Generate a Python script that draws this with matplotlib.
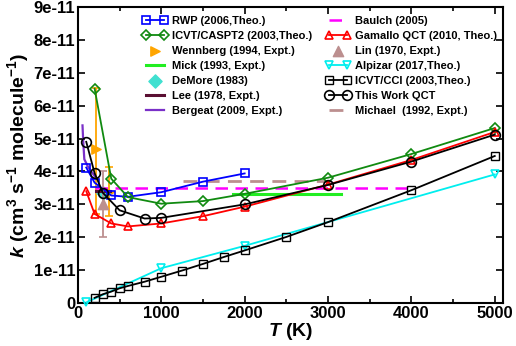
import matplotlib
matplotlib.use("Agg")
import matplotlib.pyplot as plt
import numpy as np
from matplotlib.ticker import MultipleLocator, FixedLocator, FixedFormatter

plt.rcParams['font.family'] = ['Liberation Sans', 'DejaVu Sans']
plt.rcParams['font.weight'] = 'bold'
plt.rcParams['mathtext.fontset'] = 'custom'
plt.rcParams['mathtext.rm'] = 'Liberation Sans:bold'
plt.rcParams['mathtext.it'] = 'Liberation Sans:bold:italic'
plt.rcParams['mathtext.bf'] = 'Liberation Sans:bold'

UNIT = 1e-11

# ---- data (k in units of 1e-11 cm^3 s^-1 molecule^-1) ----
rwp_T = [100, 200, 400, 600, 1000, 1500, 2000]
rwp_k = [4.12, 3.66, 3.27, 3.23, 3.37, 3.69, 3.94]

casp_T = [200, 400, 600, 1000, 1500, 2000, 3000, 4000, 5000]
casp_k = [6.52, 3.78, 3.22, 3.02, 3.10, 3.32, 3.81, 4.53, 5.32]

wenn_T = [215, 375]
wenn_k = [4.68, 3.39]
wenn_lo = [1.98, 0.75]
wenn_hi = [1.87, 0.75]

mick_T = [1860, 3160]
mick_k = [3.32, 3.32]

demore_T = [298]
demore_k = [3.35]

lee_T = [220, 380]
lee_k = [3.40, 3.40]

berg_T = [55, 65, 77, 120, 160, 200]
berg_k = [5.40, 4.85, 4.37, 4.15, 4.00, 3.86]

baulch_T = [200, 4000]
baulch_k = [3.51, 3.51]

gam_T = [100, 200, 400, 600, 1000, 1500, 2000, 3000, 4000, 5000]
gam_k = [3.40, 2.71, 2.42, 2.33, 2.42, 2.64, 2.93, 3.60, 4.35, 5.20]

lin_T = [300]
lin_k = [3.00]
lin_err = [1.00]

alp_T = [100, 1000, 2000, 5000]
alp_k = [0.02, 1.06, 1.74, 3.91]

cci_T = [200, 300, 400, 500, 600, 800, 1000, 1250, 1500, 1750, 2000, 2500, 3000, 4000, 5000]
cci_k = [0.16, 0.27, 0.35, 0.45, 0.52, 0.65, 0.80, 0.99, 1.19, 1.40, 1.60, 2.01, 2.46, 3.43, 4.47]

qct_T = [100, 200, 300, 500, 800, 1000, 2000, 3000, 4000, 5000]
qct_k = [4.90, 3.95, 3.35, 2.82, 2.57, 2.59, 3.00, 3.59, 4.30, 5.12]

mich_T = [1260, 3120]
mich_k = [3.71, 3.71]

ytick_labels = ['0', '1e-11', '2e-11', '3e-11', '4e-11', '5e-11', '6e-11', '7e-11', '8e-11', '9e-11']
xtick_labels = ['0', '1000', '2000', '3000', '4000', '5000']

def s(v):
    return np.array(v) * UNIT

fig = plt.figure(figsize=(5.16, 3.46), dpi=100)
ax = fig.add_axes([0.151, 0.124, 0.824, 0.856])

lw = 1.3
mew = 1.2

h = {}
h['rwp'], = ax.plot(rwp_T, s(rwp_k), '-s', color='#0000ff', mfc='none', ms=5.5, mew=mew, lw=lw, label='RWP (2006,Theo.)', zorder=4)
h['casp'], = ax.plot(casp_T, s(casp_k), '-D', color='#108a10', mfc='none', ms=5, mew=mew, lw=lw, label='ICVT/CASPT2 (2003,Theo.)', zorder=4)
ax.errorbar(wenn_T, s(wenn_k), yerr=[s(wenn_lo), s(wenn_hi)], fmt='none', ecolor='#ffa500', elinewidth=1.3, capsize=3, capthick=1.2, zorder=3)
h['wenn'] = ax.scatter(wenn_T, s(wenn_k), marker='>', color='#ffa500', s=45, label='Wennberg (1994, Expt.)', zorder=3)
h['mick'], = ax.plot(mick_T, s(mick_k), '-', color='#22ee22', lw=2.2, label='Mick (1993, Expt.)', zorder=3)
h['demore'] = ax.scatter(demore_T, s(demore_k), marker='D', color='#40e0d0', s=45, label='DeMore (1983)', zorder=3)
h['lee'], = ax.plot(lee_T, s(lee_k), '-', color='#5a0f32', lw=2.2, label='Lee (1978, Expt.)', zorder=3)
h['berg'], = ax.plot(berg_T, s(berg_k), '-', color='#7a30c8', lw=1.6, label='Bergeat (2009, Expt.)', zorder=3)
h['baulch'], = ax.plot(baulch_T, s(baulch_k), '--', color='#ff00ff', lw=1.8, dashes=(5, 3), label='Baulch (2005)', zorder=3)
h['gam'], = ax.plot(gam_T, s(gam_k), '-^', color='#ff0000', mfc='none', ms=6, mew=mew, lw=lw, label='Gamallo QCT (2010, Theo.)', zorder=4)
ax.errorbar(lin_T, s(lin_k), yerr=s(lin_err), fmt='none', ecolor='#bc8f8f', elinewidth=1.3, capsize=3, capthick=1.2, zorder=3)
h['lin'] = ax.scatter(lin_T, s(lin_k), marker='^', color='#bc8f8f', s=55, label='Lin (1970, Expt.)', zorder=3)
h['alp'], = ax.plot(alp_T, s(alp_k), '-v', color='#00eeee', mfc='none', ms=5.5, mew=mew, lw=lw, label='Alpizar (2017,Theo.)', zorder=4, clip_on=False)
h['cci'], = ax.plot(cci_T, s(cci_k), '-s', color='black', mfc='none', ms=5.5, mew=1.0, lw=lw, label='ICVT/CCI (2003,Theo.)', zorder=4)
h['qct'], = ax.plot(qct_T, s(qct_k), '-o', color='black', mfc='none', ms=7, mew=mew, lw=lw, label='This Work QCT', zorder=5)
h['mich'], = ax.plot(mich_T, s(mich_k), '--', color='#bc8f8f', lw=2.0, dashes=(5, 3), label='Michael  (1992, Expt.)', zorder=3)

ax.set_xlim(0, 5100)
ax.set_ylim(0, 9e-11)

ax.xaxis.set_major_locator(FixedLocator([0, 1000, 2000, 3000, 4000, 5000]))
ax.xaxis.set_major_formatter(FixedFormatter(xtick_labels))
ax.xaxis.set_minor_locator(MultipleLocator(500))
ax.yaxis.set_major_locator(FixedLocator(np.arange(10) * UNIT))
ax.yaxis.set_major_formatter(FixedFormatter(ytick_labels))

ax.tick_params(axis='both', which='both', direction='in', top=True, right=True, labelsize=12, width=1.2)
ax.tick_params(which='major', length=5, pad=2)
ax.tick_params(which='minor', length=3)
for lab in ax.get_xticklabels() + ax.get_yticklabels():
    lab.set_fontweight('bold')
for sp in ax.spines.values():
    sp.set_linewidth(1.5)

ax.set_xlabel(r'$T$ (K)', fontsize=14, fontweight='bold', labelpad=0)
ax.set_ylabel(r'$k$ (cm$^{3}$ s$^{-1}$ molecule$^{-1}$)', fontsize=14, fontweight='bold', labelpad=2)

order = ['rwp', 'casp', 'wenn', 'mick', 'demore', 'lee', 'berg',
         'baulch', 'gam', 'lin', 'alp', 'cci', 'qct', 'mich']
leg = ax.legend([h[k] for k in order], [h[k].get_label() for k in order],
                ncol=2, loc='upper left', bbox_to_anchor=(0.14, 0.988),
                frameon=False, fontsize=8, numpoints=2, scatterpoints=1,
                handlelength=2.2, handletextpad=0.4, labelspacing=0.45,
                columnspacing=1.25, borderaxespad=0.3, borderpad=0.2)
for t in leg.get_texts():
    t.set_fontweight('bold')

fig.savefig('out.png', dpi=100)
